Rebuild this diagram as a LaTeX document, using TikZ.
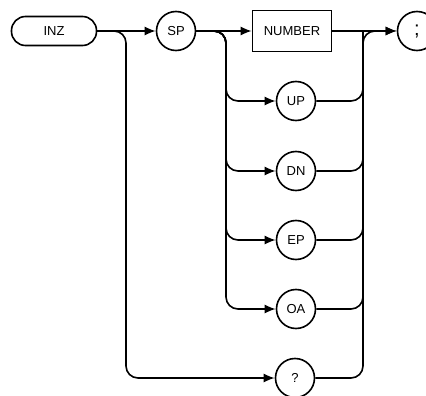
\documentclass[tikz,border=0pt]{standalone}
\usepackage{fontspec}
\setmainfont{Liberation Sans}
\usetikzlibrary{arrows.meta,positioning}

\begin{document}
\begin{tikzpicture}[x=1pt,y=-1pt,>={Latex[length=11pt,width=9pt]},
 line width=1.6pt,
 kw/.style={draw,rounded corners=14pt,minimum width=85pt,minimum height=29pt,
 inner sep=0pt,font=\fontsize{13}{15}\selectfont},
 tok/.style={circle,draw,minimum size=39pt,inner sep=0pt,font=\fontsize{13}{15}\selectfont},
 par/.style={draw,minimum width=79pt,minimum height=41pt,inner sep=0pt,
 font=\fontsize{13}{15}\selectfont},
 flow/.style={->,rounded corners=12pt},
 merge/.style={rounded corners=12pt}]
\useasboundingbox (0,0) rectangle (426,396);
\node[kw] (inz) at (54,31) {INZ};
\node[tok] (sp) at (176,31) {SP};
\node[par] (num) at (292,31) {NUMBER};
\node[tok] (semi) at (417,31) {\fontsize{20}{22}\selectfont ;};
\node[tok] (q) at (295,378) {?};
\foreach \name/\lab/\y in {up/UP/101,dn/DN/171,ep/EP/240,oa/OA/309} {
 \node[tok] (\name) at (296,\y) {\lab};
}
\coordinate (splitA) at (126,31);
\coordinate (splitB) at (226,31);
\coordinate (joinA) at (363,31);
% main line
\draw[->] (inz.east) -- (sp.west);
\draw[->] (sp.east) -- (num.west);
\draw[->] (num.east) -- (semi.west);
% query branch
\draw[flow] (inz.east) -- (splitA) |- (q.west);
% choices after SP
\foreach \name in {up,dn,ep,oa} {
 \draw[flow] (sp.east) -- (splitB) |- (\name.west);
 \draw[merge] (\name.east) -| (joinA);
}
\draw[flow] (q.east) -| (joinA) -- (semi.west);
\end{tikzpicture}
\end{document}
